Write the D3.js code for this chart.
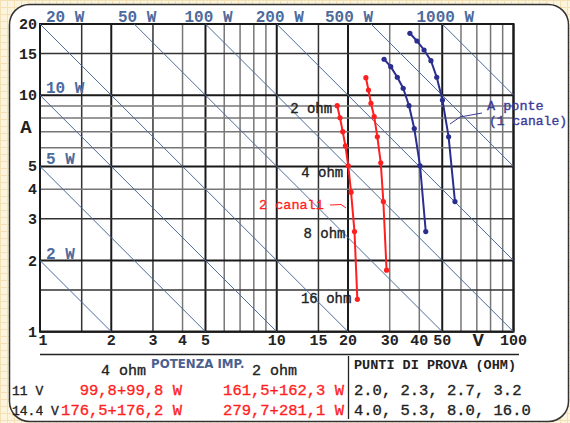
<!DOCTYPE html>
<html>
<head>
    <title>Potenza - curve V/A</title>
    <script src="https://d3js.org/d3.v7.min.js"></script>
    <style>
        body { margin: 0; }
        svg text { font-family: "Liberation Mono", "Courier New", monospace; }
    </style>
</head>
<body>
    <div id="chart"></div>

    <script>
        // test loads (ohm) and measured points, volts / amps
        const testOhms = [2.0, 2.3, 2.7, 3.2, 4.0, 5.3, 8.0, 16.0];
        const red11V = [18.0, 18.5, 19.0, 19.5, 20.05, 20.6, 21.3, 21.9];
        const red11A = [9.03, 8.03, 7.01, 6.10, 5.03, 3.89, 2.65, 1.37];
        const red14V = [23.8, 24.4, 25.0, 25.8, 26.6, 27.5, 28.2, 29.1];
        const red14A = [11.86, 10.52, 9.24, 8.11, 6.67, 5.18, 3.55, 1.82];
        const blue11V = [28.4, 30.3, 32.3, 34.2, 36.2, 38.1, 40.3, 42.6];
        const blue11A = [14.19, 13.20, 11.91, 10.70, 9.03, 7.23, 5.03, 2.65];
        const blue14V = [36.5, 39.1, 41.9, 44.8, 47.4, 50.1, 53.2, 56.6];
        const blue14A = [18.27, 16.95, 15.53, 13.99, 11.91, 9.54, 6.67, 3.55];

        const powerLines = [2, 5, 10, 20, 50, 100, 200, 500, 1000];
        const ohmLabels = ["2 ohm", "4 ohm", "8 ohm", "16 ohm"];
        const ohmLabelIdx = [0, 4, 6, 7];

        const xTicks = [1, 2, 3, 4, 5, 10, 15, 20, 30, 40, 50, 100];
        const yTicks = [1, 2, 3, 4, 5, 10, 15, 20];
        const gridV = [1, 1.5, 2, 3, 4, 5, 6, 7, 8, 9, 10, 15, 20, 30, 40, 50, 60, 70, 80, 90, 100];
        const gridA = [1, 1.5, 2, 3, 4, 5, 6, 7, 8, 9, 10, 15, 20];
        const majors = [1, 2, 5, 10, 20, 50, 100];
        const darkMinor = [1.5, 3, 15];

        const tableHead = ["4 ohm", "2 ohm"];
        const tableRows = ["11 V", "14.4 V"];
        const table4ohm = ["99,8+99,8 W", "176,5+176,2 W"];
        const table2ohm = ["161,5+162,3 W", "279,7+281,1 W"];
        const tableTests = ["2.0, 2.3, 2.7, 3.2", "4.0, 5.3, 8.0, 16.0"];

        const width = 570, height = 423;
        const RED = "#ff1f1f", BLUE = "#2a2e8e", DIAG = "#4d6b9c";

        const svg = d3.select("#chart").append("svg")
            .attr("width", width)
            .attr("height", height);

        // graph paper background
        const defs = svg.append("defs");
        const pat = defs.append("pattern")
            .attr("id", "paper")
            .attr("width", 7).attr("height", 7)
            .attr("patternUnits", "userSpaceOnUse");
        pat.append("rect").attr("width", 7).attr("height", 7).attr("fill", "#fdf4de");
        pat.append("path").attr("d", "M0,0.5H7M0.5,0V7")
            .attr("stroke", "#f3e0b4").attr("stroke-width", 1);
        svg.append("rect").attr("width", width).attr("height", height).attr("fill", "url(#paper)");

        svg.append("rect")
            .attr("x", 9.5).attr("y", 4.5)
            .attr("width", 559).attr("height", 417)
            .attr("rx", 20)
            .attr("fill", "#fff")
            .attr("stroke", "#333")
            .attr("stroke-width", 1.5);

        const x = d3.scaleLog().domain([1, 100]).range([40, 513.5]);
        const y = d3.scaleLog().domain([1, 20]).range([331.7, 24]);

        const plot = svg.append("g");

        // grid
        const gridColor = v => majors.includes(v) ? "#1a1a1a" : (darkMinor.includes(v) ? "#333" : "#777");
        const gridW = v => majors.includes(v) ? 2 : 1.5;

        plot.selectAll(".gv").data(gridV).enter().append("line")
            .attr("x1", d => x(d)).attr("x2", d => x(d))
            .attr("y1", y(1)).attr("y2", y(20))
            .attr("stroke", gridColor).attr("stroke-width", gridW);

        plot.selectAll(".ga").data(gridA).enter().append("line")
            .attr("x1", x(1)).attr("x2", x(100))
            .attr("y1", d => y(d)).attr("y2", d => y(d))
            .attr("stroke", gridColor).attr("stroke-width", gridW);

        plot.append("rect")
            .attr("x", x(1)).attr("y", y(20))
            .attr("width", x(100) - x(1)).attr("height", y(1) - y(20))
            .attr("fill", "none").attr("stroke", "#1a1a1a").attr("stroke-width", 2);

        // constant power lines
        plot.selectAll(".pw").data(powerLines).enter().append("line")
            .attr("x1", d => x(Math.max(1, d / 20)))
            .attr("y1", d => y(d / Math.max(1, d / 20)))
            .attr("x2", d => x(Math.min(100, d)))
            .attr("y2", d => y(d / Math.min(100, d)))
            .attr("stroke", DIAG).attr("stroke-width", 1);

        const topLabelX = { 20: 46, 500: 325 };
        powerLines.forEach(w => {
            const t = plot.append("text")
                .attr("fill", DIAG)
                .attr("font-size", 16)
                .attr("font-weight", "bold")
                .text(w + " W");
            if (w >= 20) {
                if (topLabelX[w] !== undefined) {
                    t.attr("x", topLabelX[w]);
                } else {
                    t.attr("x", x(w / 20) + 3).attr("text-anchor", "middle");
                }
                t.attr("y", 22);
            } else {
                t.attr("x", 46).attr("y", y(w) - 2);
            }
        });

        // axes labels
        svg.selectAll(".yt").data(yTicks).enter().append("text")
            .attr("x", 37).attr("y", d => y(d) + 5)
            .attr("text-anchor", "end")
            .attr("font-size", 15).attr("font-weight", "bold").attr("fill", "#222")
            .text(d => d);

        svg.selectAll(".xt").data(xTicks).enter().append("text")
            .attr("x", d => x(d) + (d === 1 ? 3 : 0)).attr("y", 345)
            .attr("text-anchor", "middle")
            .attr("font-size", 15).attr("font-weight", "bold").attr("fill", "#222")
            .text(d => d);

        svg.append("text").attr("x", 26).attr("y", 133)
            .attr("text-anchor", "middle")
            .attr("font-size", 19).attr("font-weight", "bold").attr("fill", "#222")
            .text("A");
        svg.append("text").attr("x", x(71)).attr("y", 346)
            .attr("text-anchor", "middle")
            .attr("font-size", 19).attr("font-weight", "bold").attr("fill", "#222")
            .text("V");

        // curves
        const curves = [
            { v: red11V, a: red11A, color: RED },
            { v: red14V, a: red14A, color: RED },
            { v: blue11V, a: blue11A, color: BLUE },
            { v: blue14V, a: blue14A, color: BLUE }
        ];
        const line = d3.line().x(d => x(d[0])).y(d => y(d[1]));

        curves.forEach(c => {
            const pts = c.v.map((v, i) => [v, c.a[i]]);
            plot.append("path")
                .attr("d", line(pts))
                .attr("fill", "none")
                .attr("stroke", c.color)
                .attr("stroke-width", 2);
            plot.selectAll(null).data(pts).enter().append("circle")
                .attr("cx", d => x(d[0])).attr("cy", d => y(d[1]))
                .attr("r", 2.6)
                .attr("fill", c.color);
        });

        // medium weight look for the courier texts
        const medium = (sel, col) => sel.attr("fill", col).attr("stroke", col).attr("stroke-width", 0.35);

        // ohm labels beside the first red curve
        const ohmDy = [7, 11, 6, 4];
        const ohmDx = [-5, -5, -9, -6];
        ohmLabels.forEach((s, k) => {
            const i = ohmLabelIdx[k];
            medium(plot.append("text")
                .attr("x", x(red11V[i]) + ohmDx[k])
                .attr("y", y(red11A[i]) + ohmDy[k])
                .attr("text-anchor", "end")
                .attr("font-size", 14)
                .text(s), "#222");
        });

        // annotations
        medium(plot.append("text").attr("x", 259).attr("y", 209)
            .attr("font-size", 13.5)
            .text("2 canali"), RED);
        plot.append("path").attr("d", "M330,205 L341,204.5 L346,208")
            .attr("fill", "none").attr("stroke", RED).attr("stroke-width", 1);

        medium(plot.append("text").attr("x", 487).attr("y", 110)
            .attr("font-size", 13.5)
            .text("A ponte"), "#3b3b9a");
        medium(plot.append("text").attr("x", 489).attr("y", 125)
            .attr("font-size", 13)
            .text("(1 canale)"), "#3b3b9a");
        plot.append("path").attr("d", "M482,113 L460,117 L450,124")
            .attr("fill", "none").attr("stroke", "#3b3b9a").attr("stroke-width", 1);

        // table under the chart
        const tb = svg.append("g");
        tb.append("line").attr("x1", 40).attr("x2", 519).attr("y1", 354.5).attr("y2", 354.5)
            .attr("stroke", "#222").attr("stroke-width", 1.3);
        tb.append("line").attr("x1", 348.5).attr("x2", 348.5).attr("y1", 356).attr("y2", 419)
            .attr("stroke", "#222").attr("stroke-width", 1.3);

        medium(tb.append("text").attr("x", 101).attr("y", 374.5).attr("font-size", 15).text(tableHead[0]), "#222");
        medium(tb.append("text").attr("x", 252).attr("y", 374.5).attr("font-size", 15).text(tableHead[1]), "#222");
        tb.append("text").attr("x", 151).attr("y", 368)
            .style("font-family", "'DejaVu Sans', sans-serif")
            .attr("font-size", 11.8).attr("font-weight", "bold").attr("fill", "#4a6090")
            .text("POTENZA IMP.");
        tb.append("text").attr("x", 354).attr("y", 369)
            .attr("font-size", 13.5).attr("font-weight", "bold").attr("fill", "#222")
            .text("PUNTI DI PROVA (OHM)");

        const rowY = [394.5, 414.5];
        tableRows.forEach((r, i) => {
            medium(tb.append("text").attr("x", 12).attr("y", rowY[i])
                .attr("font-size", 13).text(r), "#222");
            medium(tb.append("text").attr("x", 182).attr("y", rowY[i]).attr("text-anchor", "end")
                .attr("font-size", 15.5).text(table4ohm[i]), RED);
            medium(tb.append("text").attr("x", 344).attr("y", rowY[i]).attr("text-anchor", "end")
                .attr("font-size", 15.5).text(table2ohm[i]), RED);
            medium(tb.append("text").attr("x", 354).attr("y", rowY[i])
                .attr("font-size", 15.5).text(tableTests[i]), "#222");
        });
    </script>
</body>
</html>
